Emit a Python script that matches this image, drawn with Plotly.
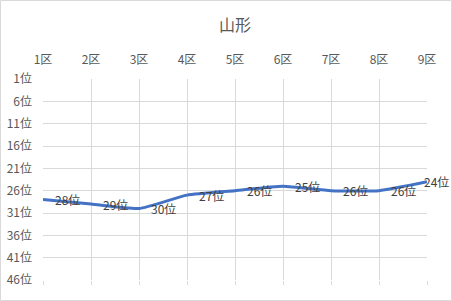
import plotly.graph_objects as go

categories = ["1区", "2区", "3区", "4区", "5区", "6区", "7区", "8区", "9区"]
ranks = [28, 29, 30, 27, 26, 25, 26, 26, 24]
label_texts = [f"{r}位" for r in ranks]
ytick_vals = [1, 6, 11, 16, 21, 26, 31, 36, 41, 46]
ytick_text = [f"{v}位" for v in ytick_vals]
title_text = "山形"

W, H = 452, 301
ML, MR, MT, MB = 43, 25, 79, 21
PW, PH = W - ML - MR, H - MT - MB

font_family = "Noto Sans CJK JP, Noto Sans, sans-serif"
grid = "#d9d9d9"

fig = go.Figure()
fig.add_trace(go.Scatter(
    x=categories, y=ranks, mode="lines",
    line=dict(color="#4472C4", width=3, shape="spline", smoothing=0.5),
    hoverinfo="skip", showlegend=False,
))
# invisible trace for bottom tick marks
fig.add_trace(go.Scatter(x=categories, y=ranks, xaxis="x2", mode="lines",
                         line=dict(width=0), opacity=0, hoverinfo="skip", showlegend=False))

for i, (c, r, t) in enumerate(zip(categories, ranks, label_texts)):
    last = i == len(categories) - 1
    fig.add_annotation(
        x=c, y=r, text=t, showarrow=False,
        xanchor="left", yanchor="middle",
        xshift=-5 if last else 10, yshift=0,
        font=dict(family=font_family, size=12, color="#404040"),
    )

fig.update_layout(
    width=W, height=H,
    margin=dict(l=ML, r=MR, t=MT, b=MB, autoexpand=False),
    paper_bgcolor="white", plot_bgcolor="white",
    title=dict(text=title_text, x=0.5, xref="paper", xanchor="center",
               y=1 - 25 / H, yref="container", yanchor="middle",
               font=dict(family=font_family, size=16, color="#595959")),
    xaxis=dict(type="category", categoryorder="array", categoryarray=categories,
               range=[0, 8], side="top", showgrid=True, gridcolor=grid, gridwidth=1,
               zeroline=False, showline=False, ticks="", ticklabelstandoff=12,
               automargin=False,
               tickfont=dict(family=font_family, size=12, color="#595959")),
    xaxis2=dict(type="category", categoryorder="array", categoryarray=categories,
                range=[0, 8], overlaying="x", side="bottom", anchor="y",
                showgrid=False, showticklabels=False, ticks="outside", ticklen=4,
                automargin=False,
                tickcolor=grid, tickwidth=1, showline=False, zeroline=False),
    yaxis=dict(range=[46, 1], tickvals=ytick_vals, ticktext=ytick_text,
               showgrid=True, gridcolor=grid, gridwidth=1, zeroline=False,
               showline=False, ticks="", ticklabelstandoff=10, automargin=False,
               tickfont=dict(family=font_family, size=12, color="#595959")),
)

fig.add_shape(type="rect", xref="paper", yref="paper",
              x0=(0.5 - ML) / PW, x1=(W - 0.5 - ML) / PW,
              y0=(H - MB - (H - 0.5)) / PH, y1=(H - MB - 0.5) / PH,
              line=dict(color=grid, width=1), fillcolor="rgba(0,0,0,0)", layer="below")

fig.write_html("out.html")
